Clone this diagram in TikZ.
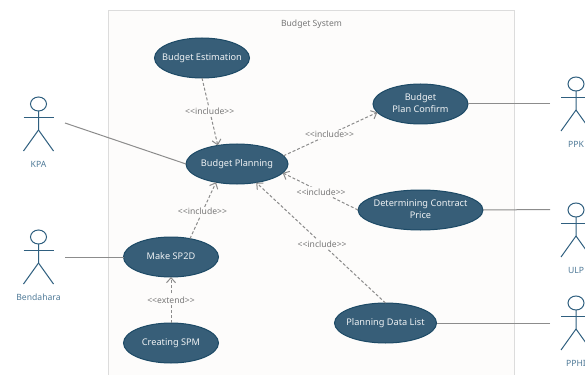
\documentclass[tikz,border=0pt]{standalone}
\usepackage{fontspec}
\setmainfont{Noto Sans}
\usetikzlibrary{arrows.meta, shapes.geometric}
\definecolor{usecasefill}{HTML}{375E78}
\definecolor{usecaseline}{HTML}{1D4A66}
\definecolor{actorcolor}{HTML}{2F5F7F}
\definecolor{actortext}{HTML}{4F7A98}
\definecolor{framefill}{HTML}{FDFCFB}
\definecolor{frameline}{HTML}{DCDCDC}
\definecolor{linkcolor}{HTML}{8C8C8C}
\definecolor{stereotext}{HTML}{777777}
\newcommand{\ucname}[1]{\makebox[0pt]{\begin{tabular}{@{}c@{}}#1\end{tabular}}}

\begin{document}
\begin{tikzpicture}[
            x=1pt, y=-1pt,
            usecase/.style={
                ellipse, draw=usecaseline, fill=usecasefill, line width=1pt,
                text=white!92!usecasefill, inner sep=0pt, outer sep=0pt,
                minimum height=40pt, font=\fontsize{9.2}{12}\selectfont
            },
            actorline/.style={draw=actorcolor, line width=1pt},
            actorname/.style={text=actortext, font=\fontsize{8.6}{10}\selectfont},
            assoc/.style={draw=linkcolor, line width=1pt},
            relation/.style={
                draw=linkcolor, line width=1pt, densely dashed,
                -{Straight Barb[length=5pt, width=9pt, line width=1pt]}
            },
            stereo/.style={
                fill=framefill, text=stereotext, inner sep=1.5pt,
                font=\fontsize{8.6}{10}\selectfont
            }
        ]
        \clip (0,0) rectangle (585,374);
        \fill[white] (0,0) rectangle (585,374);

        % system frame
        \draw[draw=frameline, fill=framefill, line width=1pt] (108.5,11) rectangle (514.5,390);
        \node (systemname) at (311.5,24) [text=stereotext, font=\fontsize{8.6}{10}\selectfont] {Budget System};

        % use cases
        \node (estimation) at (202,58) [usecase, minimum width=95pt] {\ucname{Budget Estimation}};
        \node (planning) at (237,164) [usecase, minimum width=102pt] {\ucname{Budget Planning}};
        \node (confirm) at (420.5,104) [usecase, minimum width=95pt] {\ucname{Budget\\Plan Confirm}};
        \node (contract) at (420.5,210) [usecase, minimum width=125pt] {\ucname{Determining Contract\\Price}};
        \node (datalist) at (385.5,323) [usecase, minimum width=102pt] {\ucname{Planning Data List}};
        \node (sptwod) at (171,257) [usecase, minimum width=95pt] {\ucname{Make SP2D}};
        \node (spm) at (171,343) [usecase, minimum width=95pt] {\ucname{Creating SPM}};

        % actors
        \foreach \actor/\hx/\hy/\lbl in {kpa/38.5/104/KPA, bendahara/38.5/237/Bendahara,
                ppk/576/84/PPK, ulp/576/210/ULP, pphi/576/303/PPHI} {
            \draw[actorline] (\hx,\hy) ellipse (8 and 7);
            \draw[actorline] (\hx,\hy+7) -- (\hx,\hy+26) -- (\hx-15,\hy+47);
            \draw[actorline] (\hx,\hy+26) -- (\hx+15,\hy+47);
            \draw[actorline] (\hx-15,\hy+13.5) -- (\hx+15,\hy+13.5);
            \node (\actor name) at (\hx,\hy+60) [actorname] {\lbl};
        }

        % free ends beside the actors
        \coordinate (kpa end) at (65,123);
        \coordinate (bendahara end) at (65,257);
        \coordinate (ppk end) at (550,104);
        \coordinate (ulp end) at (550,209.5);
        \coordinate (pphi end) at (550,323);

        \draw[assoc] (kpa end) -- (planning.west);
        \draw[assoc] (bendahara end) -- (sptwod.west);
        \draw[assoc] (ppk end) -- (confirm.east);
        \draw[assoc] (ulp end) -- (contract.east);
        \draw[assoc] (pphi end) -- (datalist.east);

        \draw[relation] (estimation.south) -- node[stereo, pos=.49] {<{}<include>{}>} (planning.136);
        \draw[relation] (planning.10) -- node[stereo, pos=.49] {<{}<include>{}>} (confirm.191);
        \draw[relation] (contract.west) -- node[stereo, pos=.49] {<{}<include>{}>} (planning.349);
        \draw[relation] (datalist.north) -- node[stereo, pos=.49] {<{}<include>{}>} (planning.316);
        \draw[relation] (sptwod.44) -- node[stereo, pos=.48] {<{}<include>{}>} (planning.221);
        \draw[relation] (spm.north) -- node[stereo, pos=.5] {<{}<extend>{}>} (sptwod.south);
    \end{tikzpicture}
\end{document}
